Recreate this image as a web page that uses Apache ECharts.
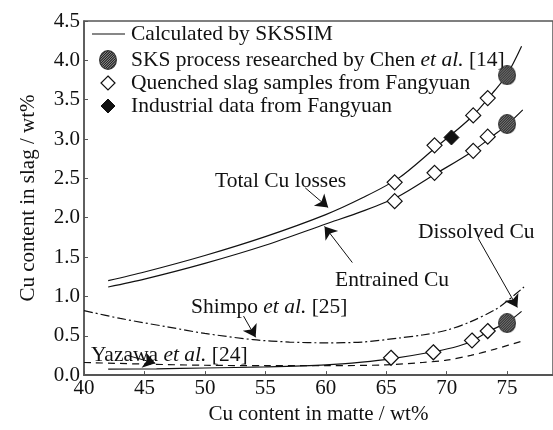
<!DOCTYPE html>
<html>
<head>
<meta charset="utf-8">
<script src="https://cdn.jsdelivr.net/npm/echarts@6/dist/echarts.min.js"></script>
<style>html,body{margin:0;padding:0;background:#fff}#main{width:553px;height:430px}</style>
</head>
<body>
<div id="main"></div>
<script>
var FONT = '"Liberation Serif", "Times New Roman", serif';

// curves (x = Cu in matte wt%, y = Cu in slag wt%)
var totalCurve = [[42,1.20],[45,1.31],[50,1.52],[55,1.76],[60,2.04],[63,2.25],[66,2.50],[69,2.88],[72,3.27],[74,3.62],[75,3.82],[76.2,4.18]];
var entrainedCurve = [[42,1.12],[45,1.22],[50,1.42],[55,1.65],[60,1.92],[63,2.08],[66,2.27],[69,2.55],[72,2.83],[74,3.06],[75,3.18],[76.3,3.37]];
var dissolvedCurve = [[42,0.075],[46,0.08],[50,0.09],[55,0.105],[60,0.13],[63,0.165],[65.5,0.21],[69,0.30],[71,0.37],[72.2,0.44],[73.4,0.55],[75,0.67],[76.2,0.81]];
var yazawaCurve = [[40,0.16],[45,0.14],[50,0.125],[55,0.12],[60,0.12],[65,0.13],[68,0.16],[70,0.19],[72,0.25],[74,0.33],[76.4,0.44]];
var shimpoCurve = [[40,0.82],[43,0.72],[47,0.61],[50,0.53],[54,0.45],[57,0.42],[60,0.41],[63,0.42],[66,0.47],[68,0.51],[70,0.57],[72,0.68],[74,0.83],[75,0.94],[76.4,1.12]];

var quenched = [[65.7,2.45],[69.0,2.92],[72.2,3.30],[73.4,3.52],[65.7,2.21],[69.0,2.57],[72.2,2.85],[73.4,3.03],[65.4,0.22],[68.9,0.29],[72.1,0.44],[73.4,0.56]];
var industrial = [[70.4,3.02]];
var sksChen = [[75,3.81],[75,3.19],[75,0.66]];

// annotation arrows [from, to]
var arrows = [
  [[58.3,2.38],[60.2,2.13]],
  [[62.2,1.43],[59.9,1.89]],
  [[72.6,1.74],[75.85,0.86]],
  [[53.2,0.75],[54.2,0.48]],
  [[43.6,0.25],[45.9,0.15]]
];

// hatched ellipse marker drawn once on a canvas
var hatch = document.createElement('canvas');
hatch.width = 18; hatch.height = 20;
var hc = hatch.getContext('2d');
hc.beginPath(); hc.ellipse(9, 10, 8.3, 9.3, 0, 0, Math.PI * 2);
hc.save(); hc.clip();
hc.fillStyle = '#b0b0b0'; hc.fillRect(0, 0, 18, 20);
hc.strokeStyle = '#1a1a1a'; hc.lineWidth = 1.1;
for (var k = -20; k < 40; k += 2.5) {
  hc.beginPath(); hc.moveTo(k, 20); hc.lineTo(k + 20, 0); hc.stroke();
}
hc.restore();
hc.beginPath(); hc.ellipse(9, 10, 8.3, 9.3, 0, 0, Math.PI * 2);
hc.strokeStyle = '#333'; hc.lineWidth = 1.3; hc.stroke();
var hatchUrl = hatch.toDataURL();

var myChart = echarts.init(document.getElementById('main'));

function curve(data, type) {
  return {
    type: 'line', data: data, smooth: 0.3, showSymbol: false, silent: true,
    lineStyle: { color: '#111', width: 1.2, type: type || 'solid' }, z: 2
  };
}

var FS = 21.5;
var txt = { fontFamily: FONT, fontSize: FS, fill: '#111' };
var rich = { i: { fontFamily: FONT, fontSize: FS, fontStyle: 'italic', fill: '#111' } };

var option = {
  animation: false,
  grid: { left: 84, top: 21, right: -2, bottom: 47, show: true, borderColor: '#555', borderWidth: 1.5 },
  xAxis: {
    type: 'value', min: 40, max: 78.8, interval: 5,
    name: 'Cu content in matte / wt%', nameLocation: 'middle', nameGap: 21,
    nameTextStyle: { fontFamily: FONT, fontSize: 21, color: '#111' },
    axisLine: { lineStyle: { color: '#555', width: 2 } },
    axisTick: { inside: true, length: 4, lineStyle: { color: '#555' } },
    axisLabel: { fontFamily: FONT, fontSize: 21, color: '#111', margin: 3, showMaxLabel: false,
      formatter: function (v) { return v % 5 === 0 ? String(v) : ''; } },
    splitLine: { show: false }
  },
  yAxis: {
    type: 'value', min: 0, max: 4.5, interval: 0.5,
    name: 'Cu content in slag / wt%', nameLocation: 'middle', nameGap: 45,
    nameTextStyle: { fontFamily: FONT, fontSize: 21, color: '#111' },
    axisLine: { lineStyle: { color: '#555', width: 1.5 } },
    axisTick: { inside: true, length: 4, lineStyle: { color: '#555' } },
    axisLabel: { fontFamily: FONT, fontSize: 21, color: '#111', margin: 4,
      formatter: function (v) { return v.toFixed(1); } },
    splitLine: { show: false }
  },
  series: [
    curve(totalCurve),
    curve(entrainedCurve),
    curve(dissolvedCurve),
    curve(yazawaCurve, [7, 5]),
    curve(shimpoCurve, [9, 3, 2, 3]),
    {
      type: 'lines', coordinateSystem: 'cartesian2d', silent: true,
      data: arrows.map(function (a) { return { coords: a }; }),
      symbol: ['none', 'arrow'], symbolSize: [6, 12],
      lineStyle: { color: '#111', width: 1, opacity: 1 }, z: 3
    },
    {
      type: 'scatter', data: quenched, symbol: 'diamond', symbolSize: 15, silent: true,
      itemStyle: { color: '#fff', borderColor: '#111', borderWidth: 1.2, opacity: 1 }, z: 4
    },
    {
      type: 'scatter', data: industrial, symbol: 'diamond', symbolSize: 15, silent: true,
      itemStyle: { color: '#111', borderColor: '#111', borderWidth: 1, opacity: 1 }, z: 4
    },
    {
      type: 'scatter', data: sksChen, symbol: 'image://' + hatchUrl, symbolSize: [18, 20], silent: true,
      itemStyle: { opacity: 1 }, z: 5
    }
  ],
  graphic: [
    // legend
    { type: 'line', shape: { x1: 92, y1: 34, x2: 125, y2: 34 }, style: { stroke: '#111', lineWidth: 1.2 } },
    { type: 'text', x: 131, y: 34, style: Object.assign({ text: 'Calculated by SKSSIM', verticalAlign: 'middle' }, txt) },
    { type: 'image', x: 99, y: 50, style: { image: hatchUrl, width: 18, height: 20 } },
    { type: 'text', x: 131, y: 60, style: Object.assign({ text: 'SKS process researched by Chen {i|et al.} [14]', verticalAlign: 'middle', rich: rich }, txt) },
    { type: 'polygon', shape: { points: [[108, 76], [115, 83], [108, 90], [101, 83]] }, style: { fill: '#fff', stroke: '#111', lineWidth: 1.2 } },
    { type: 'text', x: 131, y: 83, style: Object.assign({ text: 'Quenched slag samples from Fangyuan', verticalAlign: 'middle' }, txt) },
    { type: 'polygon', shape: { points: [[108, 99], [115, 106], [108, 113], [101, 106]] }, style: { fill: '#111', stroke: '#111', lineWidth: 1 } },
    { type: 'text', x: 131, y: 106, style: Object.assign({ text: 'Industrial data from Fangyuan', verticalAlign: 'middle' }, txt) },
    // curve labels
    { type: 'text', x: 215, y: 181, style: Object.assign({ text: 'Total Cu losses', verticalAlign: 'middle' }, txt) },
    { type: 'text', x: 335, y: 280, style: Object.assign({ text: 'Entrained Cu', verticalAlign: 'middle' }, txt) },
    { type: 'text', x: 418, y: 232, style: Object.assign({ text: 'Dissolved Cu', verticalAlign: 'middle' }, txt) },
    { type: 'text', x: 191, y: 307, style: Object.assign({ text: 'Shimpo {i|et al.} [25]', verticalAlign: 'middle', rich: rich }, txt) },
    { type: 'text', x: 91, y: 355, style: Object.assign({ text: 'Yazawa {i|et al.} [24]', verticalAlign: 'middle', rich: rich }, txt) }
  ]
};

myChart.setOption(option);
</script>
</body>
</html>
